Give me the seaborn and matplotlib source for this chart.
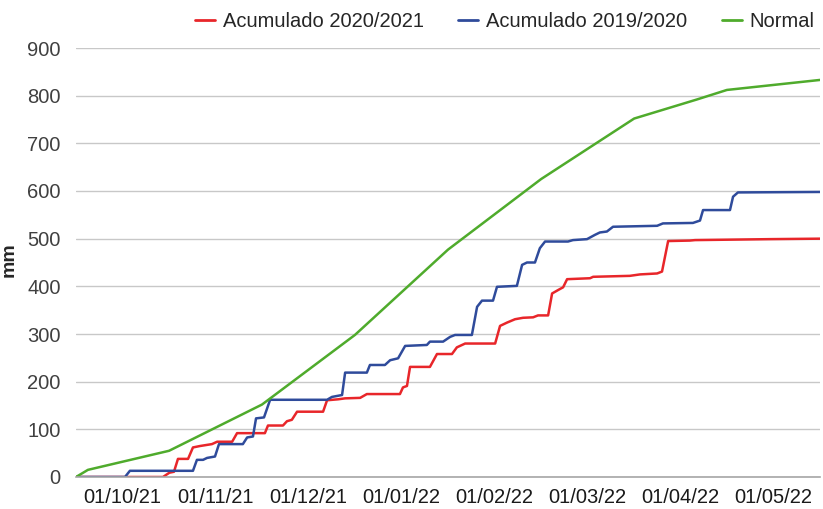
import numpy as np
import pandas as pd
import matplotlib
matplotlib.use("Agg")
import matplotlib.pyplot as plt
import seaborn as sns

# -------------------------------
# Data (days since 01/10/21, cumulative mm)
# -------------------------------
month_labels = ["01/10/21", "01/11/21", "01/12/21", "01/01/22",
                "01/02/22", "01/03/22", "01/04/22", "01/05/22"]

red_day = [0, 28.4, 30.5, 32.0, 33.3, 36.6, 38.2, 40.5, 44.4, 46.1, 51.0, 52.6,
           61.7, 62.7, 67.6, 68.9, 70.5, 72.2, 80.7, 82.0, 85.6, 87.9, 92.8, 95.0,
           105.8, 106.8, 108.1, 109.1, 115.6, 117.9, 122.8, 124.4, 127.1, 136.9,
           138.5, 140.8, 143.4, 146.0, 149.3, 150.9, 154.2, 155.5, 157.4, 159.1,
           160.4, 167.9, 168.9, 180.9, 184.2, 189.8, 191.4, 193.4, 200.5, 202.2,
           226.7, 243]
red_mm = [0, 0, 9, 11, 38, 38, 62, 65, 69, 74, 74, 92,
          92, 108, 108, 117, 120, 137, 137, 161, 163, 165, 166, 174,
          174, 188, 191, 231, 231, 258, 258, 272, 280, 280,
          317, 324, 331, 334, 335, 339, 339, 385, 392, 398,
          415, 417, 420, 422, 425, 427, 431, 495, 496, 497,
          499, 500]

blue_day = [0, 16.0, 17.6, 38.2, 39.5, 41.5, 42.8, 45.4, 46.7, 54.5, 55.9, 57.8,
            58.8, 61.4, 63.4, 82.0, 83.6, 86.9, 87.9, 95.0, 96.0, 100.9, 102.6,
            105.2, 107.5, 114.6, 115.6, 119.9, 122.2, 123.8, 129.3, 131.0, 132.6,
            136.2, 137.5, 144.0, 145.7, 147.3, 149.9, 151.5, 153.2, 160.7, 162.3,
            166.9, 169.5, 171.1, 173.4, 175.4, 189.8, 191.7, 201.5, 203.8, 204.8,
            213.6, 214.6, 216.2, 243]
blue_mm = [0, 0, 13, 13, 36, 36, 40, 43, 69, 69, 83, 85,
           123, 125, 162, 162, 168, 172, 219, 219, 235, 235, 245,
           249, 275, 277, 284, 284, 294, 298, 298, 357, 370,
           370, 399, 401, 445, 450, 450, 480, 494, 494, 497,
           499, 508, 513, 515, 525, 527, 532, 533, 538, 560,
           560, 588, 597, 598]

green_day = [0, 3.9, 30.4, 60.75, 91.1, 121.5, 151.9, 182.3, 202.8, 212.6, 243]
green_mm = [0, 15, 55, 152, 298, 477, 625, 752, 792, 812, 833]

series_names = ["Acumulado 2020/2021", "Acumulado 2019/2020", "Normal"]
colors = ["#e8262a", "#2f4b9b", "#4fab2c"]

df = pd.concat([
    pd.DataFrame({"day": red_day, "mm": red_mm, "serie": series_names[0]}),
    pd.DataFrame({"day": blue_day, "mm": blue_mm, "serie": series_names[1]}),
    pd.DataFrame({"day": green_day, "mm": green_mm, "serie": series_names[2]}),
], ignore_index=True)

# -------------------------------
# Plot
# -------------------------------
sns.set_style("white")
plt.rcParams["font.family"] = ["Liberation Sans", "DejaVu Sans"]

fig = plt.figure(figsize=(8.23, 5.09), dpi=100)
ax = fig.add_axes([76/823, 1 - 477/509, 744/823, 429/509])

sns.lineplot(data=df, x="day", y="mm", hue="serie", palette=colors,
             estimator=None, sort=False, linewidth=1.8, ax=ax, legend=False)

ax.set_xlim(0, 243)
ax.set_ylim(0, 900)
ax.set_yticks(range(0, 901, 100))
ax.yaxis.grid(True, color="#c8c8c8", linewidth=1.0)
ax.set_axisbelow(True)

# month boundaries get tick marks, labels sit between them
edges = np.linspace(0, 243, 9)
ax.set_xticks(edges)
ax.set_xticklabels([])
ax.set_xticks((edges[:-1] + edges[1:]) / 2, minor=True)
ax.set_xticklabels(month_labels, minor=True)
ax.tick_params(axis="x", which="major", length=10, width=1, color="#a6a6a6", direction="out")
ax.tick_params(axis="x", which="minor", length=0, labelsize=14.5, pad=8, colors="#1a1a1a")
ax.tick_params(axis="y", length=0, labelsize=14.5, pad=11, colors="#404040")

for side in ["top", "right", "left"]:
    ax.spines[side].set_visible(False)
ax.spines["bottom"].set_color("#a6a6a6")
ax.spines["bottom"].set_linewidth(1.2)

ax.set_xlabel("")
ax.set_ylabel("mm", fontsize=14, fontweight="bold")
ax.yaxis.set_label_coords(-0.078, 0.506)

handles = [plt.Line2D([], [], color=c, linewidth=2) for c in colors]
fig.legend(handles, series_names, loc="upper right", bbox_to_anchor=(1.012, 1.012),
           ncol=3, frameon=False, fontsize=14.5, handlelength=1.0,
           handletextpad=0.4, columnspacing=1.7)

fig.savefig("out.png", dpi=100)
